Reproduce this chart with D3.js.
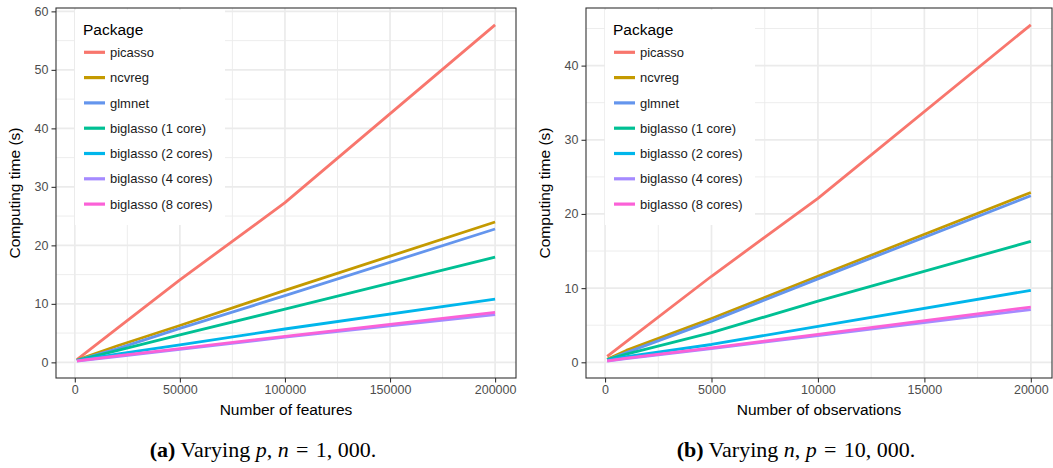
<!DOCTYPE html>
<html>
<head>
<meta charset="utf-8">
<script src="https://cdn.jsdelivr.net/npm/d3@7/dist/d3.min.js"></script>
<style>
  html, body { margin: 0; padding: 0; background: #fff; }
  svg { display: block; }
  .tick text { font-family: "Liberation Sans", Arial, sans-serif; font-size: 12.5px; fill: #4D4D4D; }
  .tick line { stroke: #333333; }
</style>
</head>
<body>
<svg id="chart" width="1053" height="468"></svg>
<script>
// Package names, in legend order
const packages = ["picasso", "ncvreg", "glmnet", "biglasso (1 core)", "biglasso (2 cores)", "biglasso (4 cores)", "biglasso (8 cores)"];

// (a) varying number of features p, n = 1,000
const features = [1000, 20000, 50000, 100000, 200000];
const featPicasso = [0.45, 5.75, 14.1, 27.3, 57.7];
const featNcvreg  = [0.40, 2.8, 6.3, 12.3, 24.0];
const featGlmnet  = [0.35, 2.3, 5.8, 11.4, 22.8];
const featBig1    = [0.35, 2.0, 4.7, 9.1, 18.0];
const featBig2    = [0.30, 1.4, 3.0, 5.7, 10.8];
const featBig4    = [0.20, 1.0, 2.2, 4.3, 8.15];
const featBig8    = [0.25, 1.1, 2.35, 4.45, 8.55];
const featTicks = [0, 50000, 100000, 150000, 200000];
const featTimeTicks = [0, 10, 20, 30, 40, 50, 60];

// (b) varying number of observations n, p = 10,000
const observations = [100, 1000, 5000, 10000, 20000];
const obsPicasso = [0.80, 2.8, 11.6, 22.1, 45.5];
const obsNcvreg  = [0.40, 1.6, 5.9, 11.6, 22.9];
const obsGlmnet  = [0.35, 1.3, 5.55, 11.25, 22.45];
const obsBig1    = [0.35, 1.1, 4.0, 8.25, 16.3];
const obsBig2    = [0.30, 0.75, 2.4, 4.85, 9.7];
const obsBig4    = [0.15, 0.5, 1.85, 3.6, 7.1];
const obsBig8    = [0.20, 0.55, 1.95, 3.75, 7.45];
const obsTicks = [0, 5000, 10000, 15000, 20000];
const obsTimeTicks = [0, 10, 20, 30, 40];

const palette = ["#F8766D", "#C49A00", "#6495ED", "#00C094", "#00B6EB", "#A58AFF", "#FB61D7"];

const svg = d3.select("#chart");
const SANS = '"Liberation Sans", Arial, sans-serif';
const SERIF = '"Liberation Serif", "Times New Roman", serif';

// ggplot-style 5% expansion of a continuous range
function expand(ext) {
  const pad = (ext[1] - ext[0]) * 0.05;
  return [ext[0] - pad, ext[1] + pad];
}

function drawPanel(cfg) {
  const { left, right, top, bottom, xs, series, xTicks, yTicks, xTitle, yTitleX } = cfg;
  const allY = series.flat();
  const x = d3.scaleLinear().domain(expand(d3.extent(xs))).range([left, right]);
  const y = d3.scaleLinear().domain(expand(d3.extent(allY))).range([bottom, top]);

  const g = svg.append("g");

  // minor grid (midpoints between major breaks)
  const xMinor = d3.pairs(xTicks).map(([a, b]) => (a + b) / 2);
  const yMinor = d3.pairs(yTicks).map(([a, b]) => (a + b) / 2)
    .concat([yTicks[yTicks.length - 1] + (yTicks[1] - yTicks[0]) / 2])
    .filter(v => v <= y.domain()[1]);
  g.append("g").selectAll("line").data(xMinor).join("line")
    .attr("x1", d => x(d)).attr("x2", d => x(d)).attr("y1", top).attr("y2", bottom)
    .attr("stroke", "#EBEBEB").attr("stroke-width", 0.9);
  g.append("g").selectAll("line").data(yMinor).join("line")
    .attr("y1", d => y(d)).attr("y2", d => y(d)).attr("x1", left).attr("x2", right)
    .attr("stroke", "#EBEBEB").attr("stroke-width", 0.9);
  // major grid
  g.append("g").selectAll("line").data(xTicks).join("line")
    .attr("x1", d => x(d)).attr("x2", d => x(d)).attr("y1", top).attr("y2", bottom)
    .attr("stroke", "#EBEBEB").attr("stroke-width", 1.7);
  g.append("g").selectAll("line").data(yTicks).join("line")
    .attr("y1", d => y(d)).attr("y2", d => y(d)).attr("x1", left).attr("x2", right)
    .attr("stroke", "#EBEBEB").attr("stroke-width", 1.7);

  // series lines
  const line = d3.line().x(d => x(d[0])).y(d => y(d[1]));
  series.forEach((vals, i) => {
    g.append("path")
      .datum(xs.map((xv, j) => [xv, vals[j]]))
      .attr("d", line)
      .attr("fill", "none")
      .attr("stroke", palette[i])
      .attr("stroke-width", 2.8)
      .attr("stroke-linejoin", "round");
  });

  // legend inside panel
  const lg = g.append("g").attr("transform", `translate(${left + 19},${top + 2})`);
  lg.append("rect").attr("x", 0).attr("y", 0).attr("width", 150).attr("height", 215).attr("fill", "#fff");
  lg.append("text").attr("x", 8).attr("y", 25).text("Package")
    .attr("font-family", SANS).attr("font-size", 15.5).attr("fill", "#000");
  packages.forEach((name, i) => {
    const cy = 42.3 + i * 25.3;
    lg.append("line").attr("x1", 9).attr("x2", 30).attr("y1", cy).attr("y2", cy)
      .attr("stroke", palette[i]).attr("stroke-width", 3.2);
    lg.append("text").attr("x", 35).attr("y", cy + 4.6).text(name)
      .attr("font-family", SANS).attr("font-size", 13).attr("fill", "#1A1A1A");
  });

  // axes
  const xAxis = d3.axisBottom(x).tickValues(xTicks).tickSize(4.5).tickPadding(3).tickFormat(d3.format("d"));
  const yAxis = d3.axisLeft(y).tickValues(yTicks).tickSize(4.5).tickPadding(3).tickFormat(d3.format("d"));
  const gx = g.append("g").attr("transform", `translate(0,${bottom})`).call(xAxis);
  const gy = g.append("g").attr("transform", `translate(${left},0)`).call(yAxis);
  gx.select(".domain").remove();
  gy.select(".domain").remove();
  gx.selectAll(".tick line").attr("stroke-width", 1.1);
  gy.selectAll(".tick line").attr("stroke-width", 1.1);

  // panel border
  g.append("rect").attr("x", left).attr("y", top).attr("width", right - left).attr("height", bottom - top)
    .attr("fill", "none").attr("stroke", "#333333").attr("stroke-width", 1.1);

  // axis titles
  g.append("text").attr("x", (left + right) / 2).attr("y", 415).attr("text-anchor", "middle")
    .attr("font-family", SANS).attr("font-size", 15.5).attr("fill", "#000").text(xTitle);
  g.append("text").attr("transform", `translate(${yTitleX},${(top + bottom) / 2}) rotate(-90)`)
    .attr("text-anchor", "middle").attr("font-family", SANS).attr("font-size", 15.5).attr("fill", "#000")
    .text("Computing time (s)");
}

drawPanel({
  left: 56, right: 516, top: 8, bottom: 378,
  xs: features,
  series: [featPicasso, featNcvreg, featGlmnet, featBig1, featBig2, featBig4, featBig8],
  xTicks: featTicks, yTicks: featTimeTicks,
  xTitle: "Number of features", yTitleX: 20
});

drawPanel({
  left: 586, right: 1052, top: 8, bottom: 378,
  xs: observations,
  series: [obsPicasso, obsNcvreg, obsGlmnet, obsBig1, obsBig2, obsBig4, obsBig8],
  xTicks: obsTicks, yTicks: obsTimeTicks,
  xTitle: "Number of observations", yTitleX: 550
});

// sub-figure captions
function caption(cx, tag, v1, v2, num) {
  const t = svg.append("text").attr("x", cx).attr("y", 456.5).attr("text-anchor", "middle")
    .attr("font-family", SERIF).attr("font-size", 22).attr("fill", "#000");
  t.append("tspan").attr("font-weight", "bold").text(tag);
  t.append("tspan").text(" Varying ");
  t.append("tspan").attr("font-style", "italic").text(v1);
  t.append("tspan").text(", ");
  t.append("tspan").attr("font-style", "italic").text(v2);
  t.append("tspan").text("\u2004=\u2004" + num + ".");
}
caption(263, "(a)", "p", "n", "1, 000");
caption(796, "(b)", "n", "p", "10, 000");
</script>
</body>
</html>
